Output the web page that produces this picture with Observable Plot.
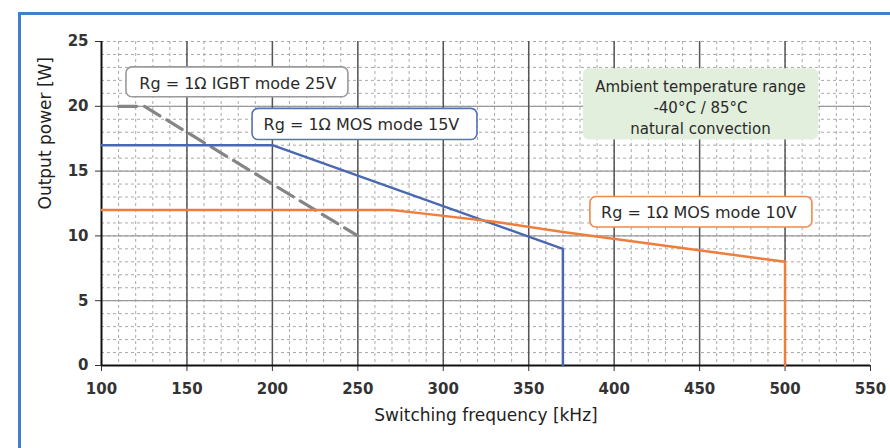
<!DOCTYPE html>
<html><head><meta charset="utf-8">
<script src="https://cdn.jsdelivr.net/npm/d3@7"></script>
<script src="https://cdn.jsdelivr.net/npm/@observablehq/plot@0.6"></script>
<style>
html,body{margin:0;padding:0;background:#fff;overflow:hidden;width:890px;height:448px;}
#frame{position:absolute;left:18px;top:12px;width:900px;height:460px;border-top:3px solid #3f7fcc;border-left:3px solid #3f7fcc;pointer-events:none;}
#chart{position:absolute;left:0;top:0;}
</style></head><body>
<div id="chart"></div><div id="frame"></div>
<script>
// ---- data ----
const xTicks = [100, 150, 200, 250, 300, 350, 400, 450, 500, 550];
const yTicks = [0, 5, 10, 15, 20, 25];

const igbtFreq  = [110, 125, 250];
const igbtPower = [20, 20, 10];

const mos15Freq  = [100, 200, 370, 370];
const mos15Power = [17, 17, 9, 0];

const mos10Freq  = [100, 270, 290, 330, 370, 500, 500];
const mos10Power = [12, 12, 11.7, 11.1, 10.3, 8, 0];

const seriesLabels = ["Rg = 1\u03A9 IGBT mode 25V", "Rg = 1\u03A9 MOS mode 15V", "Rg = 1\u03A9 MOS mode 10V"];
const noteText = "Ambient temperature range\n-40\u00B0C / 85\u00B0C\nnatural convection";
const xTitle = "Switching frequency [kHz]";
const yTitle = "Output power [W]";

// ---- layout of annotations (data units) ----
const labelBoxes = [
  {x1: 114.6, x2: 244.5, y1: 20.7, y2: 23.0, fill: "#fff", stroke: "#9a9a9a"},
  {x1: 188.4, x2: 320.0, y1: 17.4, y2: 19.8, fill: "#fff", stroke: "#5573b8"},
  {x1: 386.1, x2: 516.0, y1: 10.65, y2: 13.0, fill: "#fff", stroke: "#ec8a4e"},
  {x1: 382.0, x2: 519.6, y1: 17.4, y2: 22.9, fill: "#e2efdc", stroke: "none"}
];
const labelPos = [
  {x: 179.8, y: 21.75},
  {x: 252.1, y: 18.55},
  {x: 449.6, y: 11.75}
];

const igbt = igbtFreq.map((f, i) => ({f, p: igbtPower[i]}));
const mos15 = mos15Freq.map((f, i) => ({f, p: mos15Power[i]}));
const mos10 = mos10Freq.map((f, i) => ({f, p: mos10Power[i]}));
const labels = seriesLabels.map((t, i) => ({t, ...labelPos[i]}));

const font = "DejaVu Sans, Verdana, sans-serif";

const chart = Plot.plot({
  width: 890, height: 448,
  marginLeft: 101, marginRight: 20, marginTop: 41, marginBottom: 83,
  style: {fontFamily: font, background: "transparent", color: "#333", fontSize: "15px", fontWeight: "bold"},
  x: {domain: [100, 550], ticks: xTicks, tickSize: 6, tickPadding: 12, label: null, tickFormat: d => String(d)},
  y: {domain: [0, 25], ticks: yTicks, tickSize: 6, tickPadding: 7, label: null, tickFormat: d => String(d)},
  marks: [
    Plot.ruleX(d3.range(110, 551, 10), {stroke: "#aaa", strokeWidth: 1, strokeDasharray: "3,3"}),
    Plot.ruleY(d3.range(1, 26, 1), {stroke: "#aaa", strokeWidth: 1, strokeDasharray: "3,3"}),
    Plot.ruleY(yTicks.filter(d => d > 0 && d < 25), {stroke: "#9a9a9a", strokeWidth: 1.3}),
    Plot.ruleX(xTicks.filter(d => d > 100 && d < 550), {stroke: "#555", strokeWidth: 1.5}),
    Plot.ruleX([100], {stroke: "#111", strokeWidth: 2}),
    Plot.ruleY([0], {stroke: "#111", strokeWidth: 2}),
    Plot.line(igbt, {x: "f", y: "p", stroke: "#858585", strokeWidth: 3.2, strokeDasharray: "18,8"}),
    Plot.line(mos15, {x: "f", y: "p", stroke: "#4a68b2", strokeWidth: 2.5}),
    Plot.line(mos10, {x: "f", y: "p", stroke: "#ef7d3c", strokeWidth: 2.5, curve: "linear"}),
    Plot.rect(labelBoxes, {x1: "x1", x2: "x2", y1: "y1", y2: "y2", fill: "fill", stroke: "stroke", strokeWidth: 1.6, rx: 6}),
    Plot.text(labels, {x: "x", y: "y", text: "t", fontSize: 16, fontWeight: "normal", fill: "#2a2a2a"}),
    Plot.text([noteText], {x: 450.5, y: 20.0, text: d => d, fontSize: 15, fontWeight: "normal", fill: "#2a2a2a", lineHeight: 1.4}),
    Plot.text([xTitle], {frameAnchor: "bottom", text: d => d, dy: 55, fontSize: 17, fontWeight: "normal", fill: "#222"}),
    Plot.text([yTitle], {frameAnchor: "left", text: d => d, dx: -56, dy: 6, rotate: -90, fontSize: 17, fontWeight: "normal", fill: "#222"})
  ]
});
document.getElementById("chart").appendChild(chart);
</script></body></html>
